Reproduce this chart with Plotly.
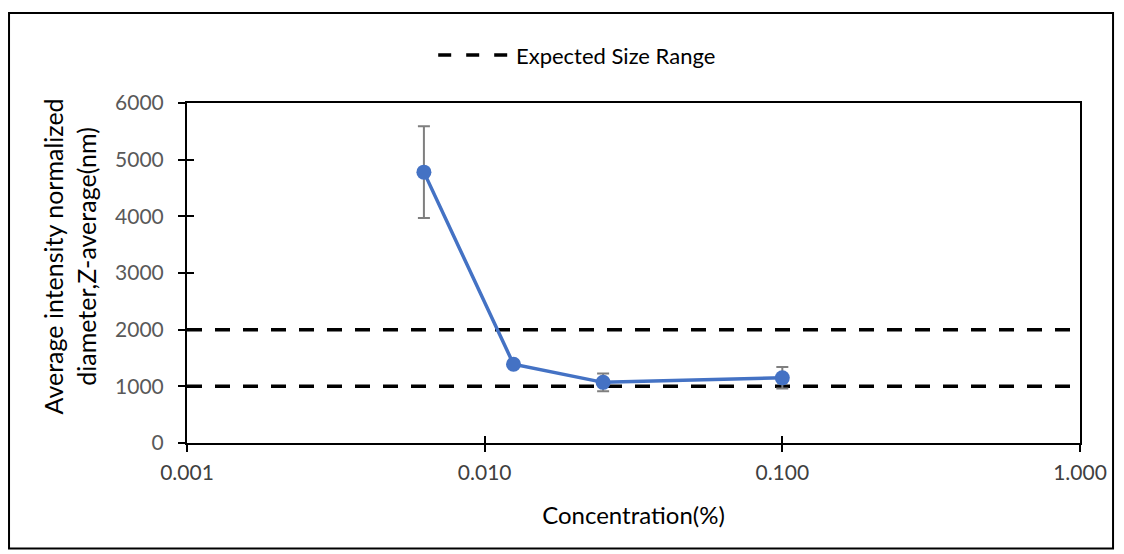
import plotly.graph_objects as go

# Measured Z-average diameter vs. concentration
concentration = [0.00625, 0.0125, 0.025, 0.1]
z_average_nm = [4780, 1390, 1070, 1150]
z_average_err = [810, 0, 155, 190]

# Expected size window (lower and upper bounds)
range_x = [0.001, 1.0]
range_low = [1000, 1000]
range_high = [2000, 2000]

x_tickvals = [0.001, 0.01, 0.1, 1.0]
x_ticktext = ["0.001", "0.010", "0.100", "1.000"]
y_tickvals = [0, 1000, 2000, 3000, 4000, 5000, 6000]

FONT = "Lato"
BLUE = "#4472C4"

fig = go.Figure()

for yy in (range_low, range_high):
    fig.add_trace(go.Scatter(
        x=range_x, y=yy, mode="lines",
        line=dict(color="black", width=3.5, dash="15px,13px"),
        showlegend=False, hoverinfo="skip",
    ))

fig.add_trace(go.Scatter(
    x=concentration, y=z_average_nm, mode="lines+markers",
    line=dict(color=BLUE, width=3.5),
    marker=dict(color=BLUE, size=15),
    error_y=dict(type="data", array=z_average_err, color="#7F7F7F",
                 thickness=2, width=6),
    showlegend=False,
))

# invisible trace on overlay axes so the inner tick marks get drawn
fig.add_trace(go.Scatter(x=range_x, y=[0, 0], xaxis="x2", yaxis="y2",
                         mode="lines", line=dict(width=0),
                         showlegend=False, hoverinfo="skip"))

axis_common = dict(showgrid=False, zeroline=False, linecolor="black",
                   linewidth=2, ticklen=7, tickwidth=1.5, tickcolor="black")

fig.update_layout(
    width=1124, height=554,
    margin=dict(l=187, r=44, t=103, b=111),
    paper_bgcolor="white", plot_bgcolor="white",
    font=dict(family=FONT, color="black"),
    xaxis=dict(type="log", range=[-3, 0], tickvals=x_tickvals,
               ticktext=x_ticktext, ticks="outside", mirror=True,
               tickfont=dict(size=21, color="#404040"),
               ticklabelstandoff=3,
               title=dict(text="Concentration(%)", font=dict(size=24),
                          standoff=24),
               **axis_common),
    yaxis=dict(range=[0, 6000], tickvals=y_tickvals, ticks="outside",
               mirror=True, tickfont=dict(size=21, color="#595959"),
               ticklabelstandoff=10,
               **axis_common),
    xaxis2=dict(type="log", range=[-3, 0], tickvals=x_tickvals,
                overlaying="x", ticks="inside", showticklabels=False,
                showline=False, showgrid=False, zeroline=False,
                ticklen=7, tickwidth=1.5, tickcolor="black"),
    yaxis2=dict(range=[0, 6000], tickvals=y_tickvals, overlaying="y",
                ticks="inside", showticklabels=False, showline=False,
                showgrid=False, zeroline=False,
                ticklen=7, tickwidth=1.5, tickcolor="black"),
    shapes=[
        # chart frame
        dict(type="rect", xref="paper", yref="paper",
             x0=-0.1993, x1=1.037, y0=-0.31, y1=1.2647,
             line=dict(color="black", width=2), layer="below"),
        # legend key
        dict(type="line", xref="paper", yref="paper",
             x0=0.2813, x1=0.3595, y0=1.141, y1=1.141,
             line=dict(color="black", width=3.5, dash="13px,15px")),
    ],
    annotations=[
        dict(text="Expected Size Range", xref="paper", yref="paper",
             x=0.3662, y=1.141, xanchor="left", yanchor="middle",
             showarrow=False, font=dict(size=22, color="black")),
        # y-axis title
        dict(text="Average intensity normalized<br>diameter,Z-average(nm)",
             xref="paper", yref="paper", x=-0.1305, y=0.55,
             xanchor="center", yanchor="middle", textangle=-90,
             showarrow=False, font=dict(size=25, color="black")),
    ],
)

fig.write_html("out.html")
